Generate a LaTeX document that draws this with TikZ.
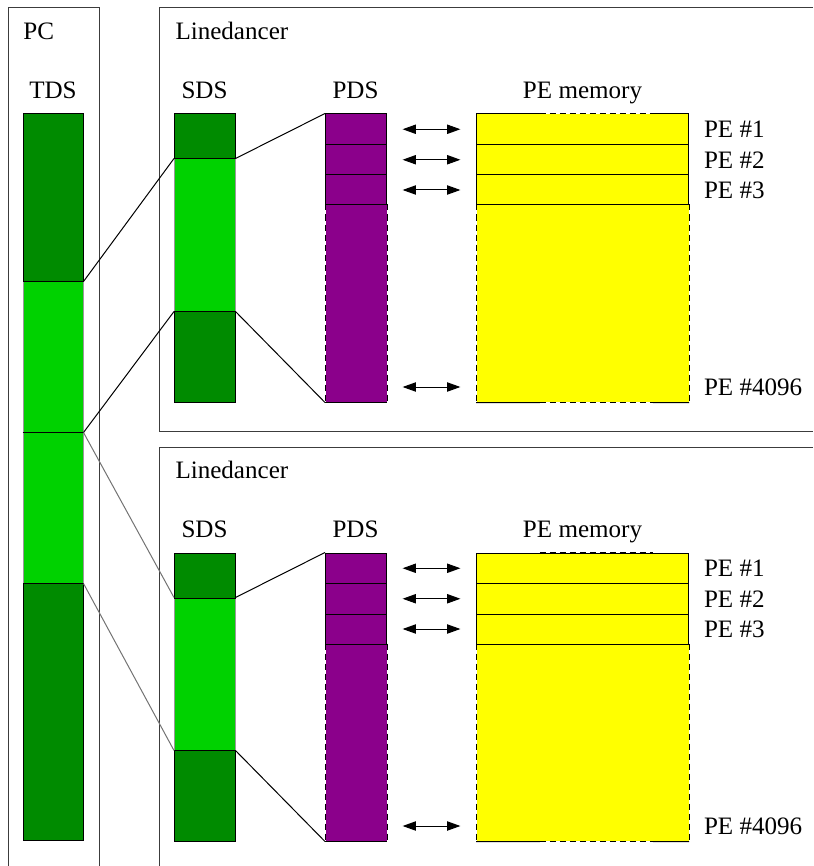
\documentclass[tikz,border=0pt]{standalone}
\usepackage{fontspec}
\setmainfont{Liberation Serif}
\usetikzlibrary{positioning, arrows.meta, calc, fit}
\definecolor{darkseg}{RGB}{0,139,0}
\definecolor{lightseg}{RGB}{0,210,0}
\definecolor{pdscol}{RGB}{139,0,139}
\definecolor{memcol}{RGB}{255,255,0}
\definecolor{framecol}{RGB}{60,60,60}

\tikzset{
  seg/.style={draw, inner sep=0pt},
  dark/.style={seg, fill=darkseg},
  light/.style={seg, draw=black!40, fill=lightseg},
  slot/.style={seg, fill=#1},
  rest/.style={inner sep=0pt, fill=#1},
  dashedge/.style={dash pattern=on 4.5pt off 3pt},
  lbl/.style={anchor=base, inner sep=0pt},
  pelbl/.style={anchor=west, inner sep=0pt},
  bus/.style={{Triangle[length=10pt,width=7pt]}-{Triangle[length=10pt,width=7pt]},
    shorten <=11.7pt, shorten >=11.7pt},
}

\begin{document}
\begin{tikzpicture}[x=0.75pt, y=-0.75pt, line width=0.75pt,
    every node/.append style={font=\fontsize{18.8}{22}\selectfont}]
        \useasboundingbox (0,0) rectangle (813,866);

        % PC with the TDS
        \draw[framecol] (8,866) -- (8,8) -- (99,8) -- (99,866);
        \node[anchor=base west, inner sep=0pt] (pc) at (23,39.3) {PC};
        \node[lbl] (tds) at (53,98.3) {TDS};
        \node[light, fit={(23,281) (83,432)}] (tds2) {};
        \node[light, fit={(23,432) (83,583)}] (tds3) {};
        \node[dark, fit={(23,114) (83,281)}] (tds1) {};
        \node[dark, fit={(23,583) (83,840.5)}] (tds4) {};
        \draw (tds2.south west) -- (tds2.south east);

        % Linedancer 1
        \draw[framecol] (813,8) -- (159,8) -- (159,431) -- (813,431);
        \node[anchor=base west, inner sep=0pt] (ldA) at (175,39.3) {Linedancer};
        \node[lbl] (sdsA) at (204.5,98.3) {SDS};
        \node[lbl] (pdsA) at (355.5,98.3) {PDS};
        \node[lbl] (memA) at (582.5,98.3) {PE memory};

        \node[light, fit={(174.5,159) (235,311)}] (sdsA2) {};
        \node[dark, fit={(174.5,114) (235,159)}] (sdsA1) {};
        \node[dark, fit={(174.5,311) (235,402)}] (sdsA3) {};

        \node[rest=pdscol, fit={(325.5,205) (386.5,402)}] (pdsA4) {};
        \node[slot=pdscol, fit={(325.5,114) (386.5,144.5)}] (pdsA1) {};
        \node[slot=pdscol, fit={(325.5,144.5) (386.5,175)}] (pdsA2) {};
        \node[slot=pdscol, fit={(325.5,175) (386.5,205)}] (pdsA3) {};
        \draw[dashedge] (pdsA4.north west) -- (pdsA4.south west);
        \draw[dashedge] (pdsA4.north east) -- (pdsA4.south east);
        \draw (pdsA4.south west) -- (pdsA4.south east);

        \node[rest=memcol, fit={(476.5,205) (688.5,402)}] (peA4) {};
        \node[slot=memcol, fit={(476.5,114) (688.5,144.5)}] (peA1) {};
        \node[slot=memcol, fit={(476.5,144.5) (688.5,175)}] (peA2) {};
        \node[slot=memcol, fit={(476.5,175) (688.5,205)}] (peA3) {};
        \draw[dashedge] (peA4.north west) -- (peA4.south west);
        \draw[dashedge] (peA4.north east) -- (peA4.south east);
        \draw (peA4.south west) -- ($(peA4.south west)!0.3!(peA4.south east)$);
        \draw[dashedge] ($(peA4.south west)!0.3!(peA4.south east)$) -- ($(peA4.south west)!0.83!(peA4.south east)$);
        \draw ($(peA4.south west)!0.83!(peA4.south east)$) -- (peA4.south east);
        % middle of the top edge is dashed too
        \draw[white] ($(peA1.north west)!0.3!(peA1.north east)$) -- ($(peA1.north west)!0.83!(peA1.north east)$);
        \draw[dashedge] ($(peA1.north west)!0.3!(peA1.north east)$) -- ($(peA1.north west)!0.83!(peA1.north east)$);

        \draw (tds1.south east) -- (sdsA2.north west);
        \draw (tds2.south east) -- (sdsA2.south west);
        \draw (sdsA2.north east) -- (pdsA1.north west);
        \draw (sdsA2.south east) -- (pdsA4.south west);

        \draw[bus] (pdsA1.east) -- (peA1.west);
        \draw[bus] (pdsA2.east) -- (peA2.west);
        \draw[bus] (pdsA3.east) -- (peA3.west);
        \draw[bus] ($(pdsA4.south east)+(0,-15.5)$) -- ($(peA4.south west)+(0,-15.5)$);

        \node[pelbl] (peA1l) at ($(peA1.east)+(14.5,0)$) {PE \#1};
        \node[pelbl] (peA2l) at ($(peA2.east)+(14.5,0)$) {PE \#2};
        \node[pelbl] (peA3l) at ($(peA3.east)+(14.5,0)$) {PE \#3};
        \node[pelbl] (peA4l) at ($(peA4.south east)+(14.5,-15.5)$) {PE \#4096};

        % Linedancer 2
        \draw[framecol] (813,447) -- (159,447) -- (159,866);
        \node[anchor=base west, inner sep=0pt] (ldB) at (175,478.3) {Linedancer};
        \node[lbl] (sdsB) at (204.5,537.3) {SDS};
        \node[lbl] (pdsB) at (355.5,537.3) {PDS};
        \node[lbl] (memB) at (582.5,537.3) {PE memory};

        \node[light, fit={(174.5,598) (235,750)}] (sdsB2) {};
        \node[dark, fit={(174.5,553) (235,598)}] (sdsB1) {};
        \node[dark, fit={(174.5,750) (235,841)}] (sdsB3) {};

        \node[rest=pdscol, fit={(325.5,644) (386.5,841)}] (pdsB4) {};
        \node[slot=pdscol, fit={(325.5,553) (386.5,583.5)}] (pdsB1) {};
        \node[slot=pdscol, fit={(325.5,583.5) (386.5,614)}] (pdsB2) {};
        \node[slot=pdscol, fit={(325.5,614) (386.5,644)}] (pdsB3) {};
        \draw[dashedge] (pdsB4.north west) -- (pdsB4.south west);
        \draw[dashedge] (pdsB4.north east) -- (pdsB4.south east);
        \draw (pdsB4.south west) -- (pdsB4.south east);

        \node[rest=memcol, fit={(476.5,644) (688.5,841)}] (peB4) {};
        \node[slot=memcol, fit={(476.5,553) (688.5,583.5)}] (peB1) {};
        \node[slot=memcol, fit={(476.5,583.5) (688.5,614)}] (peB2) {};
        \node[slot=memcol, fit={(476.5,614) (688.5,644)}] (peB3) {};
        \draw[dashedge] (peB4.north west) -- (peB4.south west);
        \draw[dashedge] (peB4.north east) -- (peB4.south east);
        \draw (peB4.south west) -- ($(peB4.south west)!0.3!(peB4.south east)$);
        \draw[dashedge] ($(peB4.south west)!0.3!(peB4.south east)$) -- ($(peB4.south west)!0.83!(peB4.south east)$);
        \draw ($(peB4.south west)!0.83!(peB4.south east)$) -- (peB4.south east);
        \draw[white] ($(peB1.north west)!0.3!(peB1.north east)$) -- ($(peB1.north west)!0.83!(peB1.north east)$);
        \draw[dashedge] ($(peB1.north west)!0.3!(peB1.north east)$) -- ($(peB1.north west)!0.83!(peB1.north east)$);

        \draw[black!55] (tds2.south east) -- (sdsB2.north west);
        \draw[black!55] (tds3.south east) -- (sdsB2.south west);
        \draw (sdsB2.north east) -- (pdsB1.north west);
        \draw (sdsB2.south east) -- (pdsB4.south west);

        \draw[bus] (pdsB1.east) -- (peB1.west);
        \draw[bus] (pdsB2.east) -- (peB2.west);
        \draw[bus] (pdsB3.east) -- (peB3.west);
        \draw[bus] ($(pdsB4.south east)+(0,-15.5)$) -- ($(peB4.south west)+(0,-15.5)$);

        \node[pelbl] (peB1l) at ($(peB1.east)+(14.5,0)$) {PE \#1};
        \node[pelbl] (peB2l) at ($(peB2.east)+(14.5,0)$) {PE \#2};
        \node[pelbl] (peB3l) at ($(peB3.east)+(14.5,0)$) {PE \#3};
        \node[pelbl] (peB4l) at ($(peB4.south east)+(14.5,-15.5)$) {PE \#4096};
\end{tikzpicture}
\end{document}
